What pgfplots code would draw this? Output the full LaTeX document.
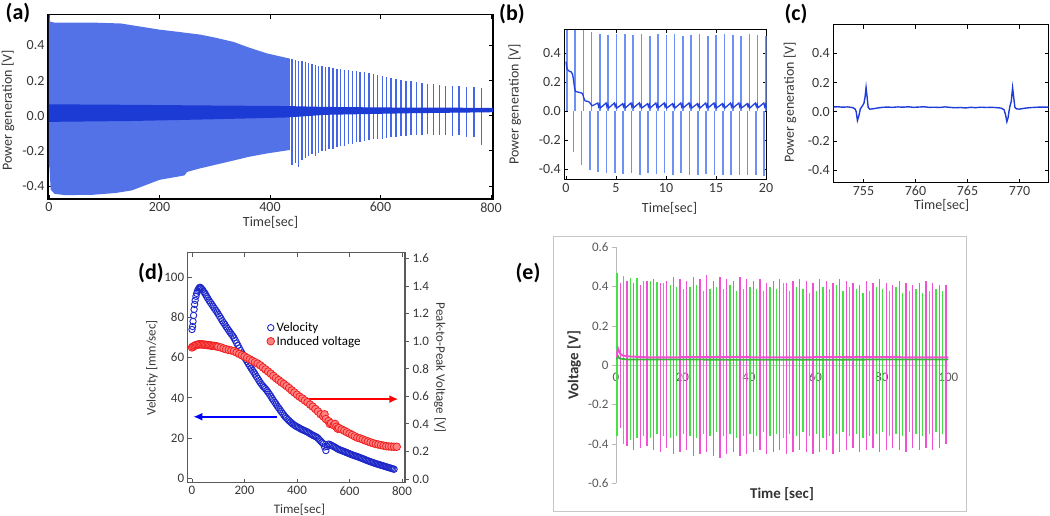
\documentclass[border=0pt]{standalone}
\usepackage{pgfplots}
\usepackage{pgfplotstable}
\pgfplotsset{compat=1.18}
\usepackage{fontspec}
\setmainfont{Carlito}
\usetikzlibrary{arrows.meta}
\definecolor{abg}{RGB}{84,114,232}
\definecolor{aband}{RGB}{28,58,212}
\definecolor{aspike}{RGB}{70,102,232}
\definecolor{bspike}{RGB}{110,145,245}
\definecolor{bline}{RGB}{35,65,220}
\definecolor{cline}{RGB}{30,60,215}
\definecolor{vblue}{RGB}{30,40,200}
\definecolor{rred}{RGB}{240,30,30}
\definecolor{rfill}{RGB}{255,130,130}
\definecolor{egreen}{RGB}{70,225,70}
\definecolor{epink}{RGB}{240,80,210}
\definecolor{tickgray}{RGB}{55,55,55}
\definecolor{egray}{RGB}{89,89,89}
\definecolor{dframe}{RGB}{90,90,90}
\pgfplotsset{/pgf/number format/assume math mode=true}
\newcommand{\fs}[1]{\fontsize{#1}{#1}\selectfont}

% ---------- (a) ----------
\pgfplotstableread{
t y
0 0.575
1 0.575
2 0.535
10 0.53
40 0.53
80 0.53
130 0.525
160 0.51
200 0.49
240 0.475
273 0.462
300 0.445
334 0.42
360 0.39
394 0.355
415 0.34
436 0.325
436 -0.195
415 -0.205
394 -0.215
360 -0.235
334 -0.255
300 -0.28
273 -0.30
250 -0.32
245 -0.34
200 -0.365
150 -0.425
120 -0.44
80 -0.45
30 -0.452
10 -0.445
3 -0.42
1 -0.30
0 -0.28
}\Aenv
\pgfplotstableread{
t y
0 0.065
150 0.062
300 0.058
430 0.055
500 0.05
650 0.046
805 0.045
805 0.02
650 0.014
500 0.005
430 -0.01
300 -0.02
150 -0.03
0 -0.035
}\Aband
\pgfplotstableread{
t top bot
440 0.32 -0.28
446 0.315 -0.27
452 0.31 -0.29
458 0.31 -0.25
464 0.305 -0.24
470 0.30 -0.23
476 0.295 -0.22
482 0.29 -0.23
488 0.285 -0.21
494 0.283 -0.20
500 0.28 -0.20
507 0.275 -0.19
514 0.27 -0.19
521 0.268 -0.18
528 0.265 -0.17
535 0.262 -0.17
542 0.258 -0.16
549 0.255 -0.16
556 0.252 -0.15
563 0.25 -0.15
571 0.248 -0.145
579 0.245 -0.14
587 0.24 -0.135
595 0.232 -0.13
603 0.225 -0.13
611 0.218 -0.125
619 0.212 -0.12
628 0.207 -0.12
637 0.204 -0.115
646 0.2 -0.115
655 0.196 -0.11
665 0.192 -0.11
675 0.188 -0.11
685 0.183 -0.105
696 0.178 -0.11
707 0.175 -0.11
718 0.172 -0.11
730 0.17 -0.115
742 0.168 -0.11
755 0.166 -0.12
769 0.165 -0.12
783 0.16 -0.165
}\Aspk

% ---------- (b) ----------
\pgfplotstableread{
u top
0.07 0.56
0.90 0.555
1.73 0.555
2.56 0.545
3.39 0.53
4.22 0.525
5.05 0.53
5.88 0.53
6.71 0.525
7.54 0.53
8.37 0.52
9.20 0.53
10.03 0.525
10.86 0.53
11.69 0.52
12.52 0.525
13.35 0.53
14.18 0.52
15.01 0.525
15.84 0.53
16.67 0.525
17.50 0.52
18.33 0.53
19.16 0.525
19.99 0.52
}\Bup
\pgfplotstableread{
d bot
0.73 -0.28
1.56 -0.37
2.39 -0.41
3.22 -0.42
4.05 -0.43
4.88 -0.43
5.71 -0.435
6.54 -0.43
7.37 -0.44
8.20 -0.43
9.03 -0.435
9.86 -0.43
10.69 -0.44
11.52 -0.43
12.35 -0.44
13.18 -0.44
14.01 -0.435
14.84 -0.44
15.67 -0.445
16.50 -0.44
17.33 -0.445
18.16 -0.44
18.99 -0.445
19.82 -0.45
}\Bdn
\pgfplotstableread{
t y
0 0.34
0.1 0.29
0.3 0.275
0.5 0.27
0.65 0.255
0.76 0.21
0.85 0.16
0.95 0.135
1.2 0.13
1.5 0.125
1.65 0.12
1.78 0.09
1.9 0.07
2.2 0.065
2.35 0.06
2.45 0.05
2.6 0.035
3.18 0.055
3.26 0.03
3.35 0.045
3.43 0.02
4.01 0.055
4.09 0.03
4.18 0.045
4.26 0.02
4.84 0.055
4.92 0.03
5.01 0.045
5.09 0.02
5.67 0.05
5.75 0.03
5.84 0.045
5.92 0.02
6.50 0.055
6.58 0.03
6.67 0.045
6.75 0.022
7.33 0.055
7.41 0.03
7.50 0.045
7.58 0.02
8.16 0.05
8.24 0.03
8.33 0.045
8.41 0.02
8.99 0.055
9.07 0.03
9.16 0.045
9.24 0.022
9.82 0.055
9.90 0.03
9.99 0.045
10.07 0.02
10.65 0.05
10.73 0.03
10.82 0.045
10.90 0.02
11.48 0.055
11.56 0.03
11.65 0.045
11.73 0.022
12.31 0.055
12.39 0.03
12.48 0.045
12.56 0.02
13.14 0.05
13.22 0.03
13.31 0.045
13.39 0.02
13.97 0.055
14.05 0.03
14.14 0.045
14.22 0.022
14.80 0.055
14.88 0.03
14.97 0.045
15.05 0.02
15.63 0.05
15.71 0.03
15.80 0.045
15.88 0.02
16.46 0.055
16.54 0.03
16.63 0.045
16.71 0.022
17.29 0.055
17.37 0.03
17.46 0.045
17.54 0.02
18.12 0.05
18.20 0.03
18.29 0.045
18.37 0.02
18.95 0.055
19.03 0.03
19.12 0.045
19.20 0.022
19.78 0.055
19.86 0.03
19.95 0.045
20.03 0.02
20.1 0.04
}\Bbase

% ---------- (c) ----------
\pgfplotstableread{
t y
752.0 0.032
752.5 0.034
753.0 0.031
753.5 0.033
753.8 0.030
754.0 0.027
754.2 0.018
754.3 0.0
754.42 -0.06
754.55 -0.03
754.7 0.02
754.9 0.04
755.05 0.06
755.15 0.10
755.25 0.166
755.35 0.10
755.45 0.03
755.6 0.018
755.9 0.02
756.3 0.025
756.8 0.03
757.3 0.032
757.8 0.03
758.3 0.033
758.8 0.031
759.3 0.034
759.8 0.03
760.3 0.032
760.8 0.034
761.3 0.03
761.8 0.031
762.3 0.029
762.8 0.033
763.3 0.03
763.8 0.027
764.3 0.029
764.8 0.026
765.3 0.03
765.8 0.028
766.3 0.031
766.8 0.029
767.3 0.03
767.8 0.028
768.2 0.025
768.5 0.015
768.65 -0.02
768.78 -0.068
768.9 -0.04
769.0 0.01
769.1 0.045
769.2 0.07
769.33 0.165
769.45 0.09
769.55 0.03
769.7 0.02
770.0 0.018
770.5 0.024
771.0 0.028
771.5 0.03
772.0 0.032
772.5 0.031
773.0 0.033
}\Cdat

% ---------- (d) ----------
\pgfplotstableread{
t v
0 74
2 75.5
4 78
6 81
8 84
10 86.5
12 88.5
15 90.5
18 92
21 93.2
24 94
27 94.6
30 95
33 94.8
36 94.3
40 93.8
44 93
48 92.2
52 91.3
56 90.4
60 89.5
65 88.4
70 87.5
75 86.5
80 85.6
85 84.6
90 83.6
95 82.7
100 81.7
105 80.6
110 79.5
115 78.4
120 77.4
125 76.5
130 75.4
135 74.5
140 73.5
145 72.6
150 71.7
155 70.8
160 69.8
165 68.6
170 67.3
175 66.1
180 64.8
185 63.5
190 62.3
195 61.2
200 60.1
205 59.1
210 58
215 56.9
220 55.8
225 54.8
230 53.8
235 52.8
240 51.8
245 50.7
250 49.7
255 48.6
260 47.6
265 46.7
270 45.9
275 45.2
280 44.5
285 43.6
290 42.8
295 41.8
300 40.8
305 39.8
310 38.8
315 37.8
320 36.9
325 35.9
330 35
335 34.1
340 33.2
345 32.3
350 31.4
355 30.6
360 29.9
365 29.2
370 28.6
375 28
380 27.4
385 26.9
390 26.4
395 26
400 25.6
405 25.3
410 24.9
415 24.5
420 24.2
425 23.9
430 23.6
435 23.3
440 23
445 22.6
450 22.2
455 21.8
460 21.4
465 21.1
470 20.8
475 20.4
480 19.9
485 19.2
490 18.5
495 17.8
500 17.2
505 15.6
510 13.8
515 15.8
520 17
525 16.8
530 16.5
535 16.1
540 15.8
545 15.4
550 15
555 14.6
560 14.3
565 14
570 13.8
575 13.5
580 13.3
585 13
590 12.7
595 12.5
600 12.2
605 11.9
610 11.7
615 11.4
620 11.2
625 11
630 10.8
635 10.5
640 10.3
645 10
650 9.8
655 9.5
660 9.2
665 9
670 8.7
675 8.5
680 8.2
685 8
690 7.8
695 7.5
700 7.3
705 7.1
710 6.9
715 6.7
720 6.5
725 6.3
730 6.1
735 5.9
740 5.7
745 5.5
750 5.3
755 5.1
760 4.9
765 4.7
770 4.5
}\Dvel
\pgfplotstableread{
t p
0 0.955
5 0.962
10 0.968
15 0.972
20 0.975
25 0.977
30 0.978
35 0.977
40 0.977
45 0.976
50 0.975
55 0.973
60 0.972
65 0.971
70 0.970
75 0.968
80 0.967
85 0.966
90 0.965
95 0.962
100 0.960
110 0.955
120 0.948
130 0.942
140 0.937
150 0.933
160 0.928
170 0.918
180 0.908
190 0.898
200 0.890
210 0.879
220 0.868
230 0.858
240 0.848
250 0.838
260 0.826
270 0.810
280 0.795
290 0.780
300 0.765
310 0.748
320 0.732
330 0.718
340 0.703
350 0.690
360 0.675
370 0.660
380 0.643
390 0.628
400 0.612
410 0.597
420 0.585
430 0.570
440 0.557
450 0.540
460 0.525
470 0.508
480 0.490
490 0.470
500 0.455
505 0.470
510 0.435
520 0.420
525 0.400
530 0.405
540 0.390
545 0.400
550 0.380
555 0.365
560 0.370
570 0.360
580 0.350
590 0.340
600 0.330
610 0.320
620 0.310
630 0.300
640 0.295
650 0.288
660 0.280
670 0.273
680 0.266
690 0.260
700 0.254
710 0.250
720 0.246
730 0.242
740 0.238
750 0.236
760 0.235
770 0.234
780 0.234
}\Dvolt

% ---------- (e) ----------
\pgfplotstableread{
tg gt gb tp pt pb
0.3 0.47 -0.36 1.3 0.42 -0.32
2.3 0.455 -0.40 3.3 0.43 -0.41
4.3 0.445 -0.38 5.3 0.42 -0.43
6.3 0.445 -0.37 7.3 0.41 -0.42
8.3 0.43 -0.36 9.3 0.43 -0.41
10.3 0.43 -0.37 11.3 0.44 -0.43
12.3 0.425 -0.35 13.3 0.42 -0.44
14.3 0.42 -0.36 15.3 0.43 -0.42
16.3 0.41 -0.37 17.3 0.45 -0.45
18.3 0.40 -0.36 19.3 0.44 -0.44
20.3 0.39 -0.35 21.3 0.43 -0.43
22.3 0.40 -0.36 23.3 0.45 -0.46
24.3 0.41 -0.37 25.3 0.44 -0.45
26.3 0.38 -0.35 27.3 0.46 -0.44
28.3 0.39 -0.36 29.3 0.43 -0.46
30.3 0.40 -0.34 31.3 0.45 -0.47
32.3 0.39 -0.36 33.3 0.44 -0.45
34.3 0.41 -0.35 35.3 0.43 -0.44
36.3 0.38 -0.37 37.3 0.45 -0.46
38.3 0.39 -0.36 39.3 0.44 -0.45
40.3 0.40 -0.35 41.3 0.43 -0.44
42.3 0.39 -0.36 43.3 0.44 -0.43
44.3 0.38 -0.34 45.3 0.42 -0.45
46.3 0.40 -0.36 47.3 0.43 -0.44
48.3 0.39 -0.35 49.3 0.44 -0.43
50.3 0.42 -0.37 51.3 0.42 -0.45
52.3 0.38 -0.35 53.3 0.43 -0.44
54.3 0.40 -0.36 55.3 0.44 -0.43
56.3 0.39 -0.34 57.3 0.43 -0.44
58.3 0.37 -0.36 59.3 0.42 -0.45
60.3 0.38 -0.35 61.3 0.44 -0.44
62.3 0.40 -0.37 63.3 0.43 -0.43
64.3 0.39 -0.36 65.3 0.42 -0.45
66.3 0.41 -0.35 67.3 0.44 -0.44
68.3 0.38 -0.34 69.3 0.43 -0.43
70.3 0.40 -0.36 71.3 0.42 -0.42
72.3 0.39 -0.35 73.3 0.41 -0.44
74.3 0.37 -0.37 75.3 0.43 -0.43
76.3 0.38 -0.36 77.3 0.42 -0.42
78.3 0.40 -0.35 79.3 0.44 -0.44
80.3 0.39 -0.34 81.3 0.42 -0.43
82.3 0.38 -0.36 83.3 0.41 -0.42
84.3 0.40 -0.35 85.3 0.43 -0.43
86.3 0.37 -0.36 87.3 0.42 -0.44
88.3 0.38 -0.34 89.3 0.41 -0.42
90.3 0.39 -0.35 91.3 0.42 -0.43
92.3 0.37 -0.36 93.3 0.43 -0.42
94.3 0.38 -0.35 95.3 0.42 -0.43
96.3 0.39 -0.34 97.3 0.41 -0.42
98.3 0.38 -0.35 99.3 0.41 -0.40
}\Espk
\pgfplotstableread{
t y
0 0.04
0.6 0.085
1.2 0.06
2 0.05
4 0.045
10 0.04
30 0.042
50 0.04
70 0.042
100 0.04
}\Epink
\pgfplotstableread{
t y
0 0.03
0.5 0.05
1 0.035
3 0.03
50 0.028
100 0.03
}\Egreen

\begin{document}
\begin{tikzpicture}
\useasboundingbox (0,0) rectangle (1050pt,-516pt);

% panel letters
\node[font=\bfseries\fs{22}] at (18pt,-13pt) {(a)};
\node[font=\bfseries\fs{22}] at (512pt,-14pt) {(b)};
\node[font=\bfseries\fs{22}] at (796pt,-14pt) {(c)};
\node[font=\bfseries\fs{22}] at (151pt,-273pt) {(d)};
\node[font=\bfseries\fs{22}] at (528pt,-273pt) {(e)};

% ---------------- (a) ----------------
\begin{axis}[at={(48pt,-14.7pt)}, anchor=north west, scale only axis,
  width=445pt, height=184.3pt,
  xmin=-1.8, xmax=803.6, ymin=-0.474, ymax=0.575,
  xtick={0,200,400,600,800}, ytick={-0.4,-0.2,0,0.2,0.4},
  yticklabel style={/pgf/number format/.cd,fixed,fixed zerofill,precision=1},
  axis line style={black, line width=1.2pt},
  tick style={black, line width=0.8pt}, major tick length=4pt,
  tick label style={font=\fs{14}, text=tickgray},
  xlabel={Time[sec]}, ylabel={Power generation [V]},
  every axis x label/.style={at={(axis description cs:0.5,-0.125)}, anchor=center, font=\fs{14}, text=tickgray},
  every axis y label/.style={at={(axis description cs:-0.09,0.48)}, rotate=90, anchor=center, font=\fs{14}, text=tickgray},
]
\addplot[fill=abg, draw=none] table[x=t,y=y] {\Aenv};
\addplot[ycomb, aspike, line width=1.3pt, mark=none] table[x=t,y=top] {\Aspk};
\addplot[ycomb, aspike, line width=1.3pt, mark=none] table[x=t,y=bot] {\Aspk};
\addplot[fill=aband, draw=none] table[x=t,y=y] {\Aband};
\end{axis}

% ---------------- (b) ----------------
\begin{axis}[at={(564.3pt,-29.3pt)}, anchor=north west, scale only axis,
  width=202.4pt, height=150.7pt,
  xmin=-0.17, xmax=20.07, ymin=-0.476, ymax=0.563,
  xtick={0,5,10,15,20}, ytick={-0.4,-0.2,0,0.2,0.4},
  yticklabel style={/pgf/number format/.cd,fixed,fixed zerofill,precision=1},
  axis line style={black, line width=1pt},
  tick style={black, line width=0.8pt}, major tick length=4pt,
  tick label style={font=\fs{14}, text=tickgray},
  xlabel={Time[sec]}, ylabel={Power generation [V]},
  every axis x label/.style={at={(axis description cs:0.52,-0.19)}, anchor=center, font=\fs{14}, text=tickgray},
  every axis y label/.style={at={(axis description cs:-0.245,0.5)}, rotate=90, anchor=center, font=\fs{14}, text=tickgray},
]
\addplot[ycomb, bspike, line width=1.6pt, mark=none] table[x=u,y=top] {\Bup};
\addplot[ycomb, bspike, line width=1.6pt, mark=none] table[x=d,y=bot] {\Bdn};
\addplot[bline, line width=1.3pt, mark=none] table[x=t,y=y] {\Bbase};
\end{axis}

% ---------------- (c) ----------------
\begin{axis}[at={(833.3pt,-25pt)}, anchor=north west, scale only axis,
  width=215.4pt, height=157.7pt,
  xmin=752.1, xmax=772.8, ymin=-0.486, ymax=0.594,
  xtick={755,760,765,770}, ytick={-0.4,-0.2,0,0.2,0.4},
  yticklabel style={/pgf/number format/.cd,fixed,fixed zerofill,precision=1},
  axis line style={black, line width=1pt},
  tick style={black, line width=0.8pt}, major tick length=4pt,
  tick label style={font=\fs{14}, text=tickgray},
  xlabel={Time[sec]}, ylabel={Power generation [V]},
  every axis x label/.style={at={(axis description cs:0.503,-0.141)}, anchor=center, font=\fs{14}, text=tickgray},
  every axis y label/.style={at={(axis description cs:-0.201,0.509)}, rotate=90, anchor=center, font=\fs{14}, text=tickgray},
]
\addplot[cline, line width=1.4pt, mark=none] table[x=t,y=y] {\Cdat};
\end{axis}

% ---------------- (d) ----------------
\begin{axis}[at={(187.7pt,-252.7pt)}, anchor=north west, scale only axis,
  width=217.3pt, height=230pt,
  xmin=-16.4, xmax=811.4, ymin=-2.2, ymax=112.2,
  xtick={0,200,400,600,800}, ytick={0,20,40,60,80,100},
  ytick pos=left, tick align=inside,
  axis line style={dframe, line width=1.3pt},
  tick style={dframe, line width=0.8pt}, major tick length=4pt,
  tick label style={font=\fs{13}, text=tickgray},
  xlabel={Time[sec]}, ylabel={Velocity [mm/sec]},
  every axis x label/.style={at={(axis description cs:0.514,-0.116)}, anchor=center, font=\fs{13}, text=tickgray},
  every axis y label/.style={at={(axis description cs:-0.164,0.5)}, rotate=90, anchor=center, font=\fs{13}, text=tickgray},
]
\addplot[only marks, mark=o, mark size=3.2pt, mark options={draw=vblue, line width=0.9pt}] table[x=t,y=v] {\Dvel};
\draw[-{Latex[length=9pt,width=8pt]}, line width=1.8pt, blue] (axis cs:323,30.6) -- (axis cs:5,30.6);
\end{axis}
\begin{axis}[at={(187.7pt,-252.7pt)}, anchor=north west, scale only axis,
  width=217.3pt, height=230pt,
  xmin=-16.4, xmax=811.4, ymin=-0.027, ymax=1.643,
  axis y line*=right, axis x line=none,
  ytick={0,0.2,0.4,0.6,0.8,1.0,1.2,1.4,1.6},
  yticklabel style={/pgf/number format/.cd,fixed,fixed zerofill,precision=1},
  tick align=outside,
  axis line style={dframe, line width=1.3pt},
  tick style={dframe, line width=0.8pt}, major tick length=4pt,
  tick label style={font=\fs{13}, text=tickgray},
  ylabel={Peak-to-Peak Voltage [V]},
  every axis y label/.style={at={(axis description cs:1.161,0.5)}, rotate=-90, anchor=center, font=\fs{13}, text=tickgray},
  legend style={at={(axis description cs:0.35,0.715)}, anchor=north west, draw=none, fill=none, font=\fs{13}, row sep=-1pt},
  legend cell align=left,
]
\addlegendimage{only marks, mark=o, mark size=3.2pt, mark options={draw=vblue, line width=0.9pt}}
\addlegendentry{Velocity}
\addplot[only marks, mark=*, mark size=3.8pt, mark options={draw=rred, fill=rfill, line width=0.8pt}] table[x=t,y=p] {\Dvolt};
\addlegendentry{Induced voltage}
\draw[-{Latex[length=9pt,width=8pt]}, line width=1.8pt, red] (axis cs:437,0.58) -- (axis cs:786,0.58);
\end{axis}

% ---------------- (e) ----------------
\draw[gray!45, line width=0.8pt] (553.3pt,-236pt) rectangle (966pt,-511pt);
\begin{axis}[at={(616pt,-247.3pt)}, anchor=north west, scale only axis,
  width=332.3pt, height=236pt,
  xmin=0, xmax=100, ymin=-0.6, ymax=0.6,
  axis y line*=left, axis x line*=middle,
  hide obscured x ticks=false, hide obscured y ticks=false,
  xtick={0,20,40,60,80,100}, ytick={-0.6,-0.4,-0.2,0,0.2,0.4,0.6},
  x axis line style={gray!45, line width=1.6pt},
  y axis line style={gray!55, line width=0.8pt},
  ytick style={gray!55, line width=0.8pt}, xtick style={draw=none},
  tick align=outside, major tick length=4pt,
  tick label style={font=\fs{13}, text=egray},
  xlabel={\textbf{Time [sec]}}, ylabel={\textbf{Voltage [V]}},
  every axis x label/.style={at={(axis description cs:0.4995,-0.047)}, anchor=center, font=\fs{15}, text=black!80},
  every axis y label/.style={at={(axis description cs:-0.126,0.5)}, rotate=90, anchor=center, font=\fs{15}, text=black!80},
]
\addplot[ycomb, egreen, line width=1.3pt, mark=none] table[x=tg,y=gt] {\Espk};
\addplot[ycomb, egreen, line width=1.3pt, mark=none] table[x=tg,y=gb] {\Espk};
\addplot[ycomb, epink, line width=1.3pt, mark=none] table[x=tp,y=pt] {\Espk};
\addplot[ycomb, epink, line width=1.3pt, mark=none] table[x=tp,y=pb] {\Espk};
\addplot[egreen!80!black, line width=1.8pt, mark=none] table[x=t,y=y] {\Egreen};
\addplot[epink, line width=2pt, mark=none] table[x=t,y=y] {\Epink};
\end{axis}
\end{tikzpicture}
\end{document}
